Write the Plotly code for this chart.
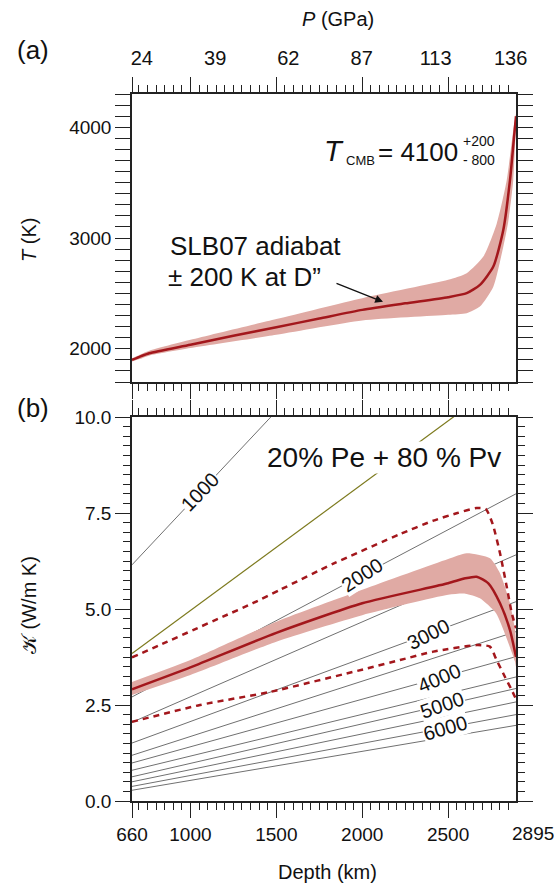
import plotly.graph_objects as go

# ---------------- data ----------------
# (a) adiabat temperature vs depth
depth_T = [660, 700, 760, 1000, 1250, 1500, 1750, 2000, 2250, 2500, 2608, 2685, 2763, 2821, 2860, 2880, 2895]
T_mean = [1900, 1925, 1960, 2036, 2118, 2195, 2273, 2351, 2410, 2466, 2502, 2577, 2742, 3072, 3522, 3850, 4100]
depth_T_hi = [660, 700, 760, 1000, 1500, 2000, 2500, 2608, 2705, 2783, 2841, 2879, 2895]
T_hi = [1915, 1942, 1982, 2081, 2268, 2457, 2622, 2682, 2832, 3132, 3522, 3973, 4120]
depth_T_lo = [660, 700, 760, 1000, 1500, 2000, 2500, 2608, 2685, 2763, 2821, 2850, 2879, 2895]
T_lo = [1885, 1905, 1938, 2006, 2126, 2255, 2306, 2321, 2381, 2561, 2922, 3150, 3522, 4050]

# top axis pressure labels
p_tick_depth = [717, 1144, 1570, 1997, 2427, 2864]
p_labels = ["24", "39", "62", "87", "113", "136"]

# (b) conductivity vs depth
depth_K = [660, 1000, 1500, 2000, 2500, 2600, 2666, 2734, 2802, 2860, 2895]
K_mean = [2.91, 3.48, 4.38, 5.15, 5.67, 5.80, 5.84, 5.67, 5.15, 4.45, 3.75]
depth_K_hi = [660, 1000, 1500, 2000, 2500, 2608, 2744, 2802, 2860, 2889, 2895]
K_hi = [3.10, 3.67, 4.67, 5.50, 6.30, 6.45, 6.32, 5.93, 5.15, 4.45, 4.10]
depth_K_lo = [660, 1000, 1500, 2000, 2500, 2600, 2685, 2779, 2837, 2889, 2895]
K_lo = [2.76, 3.28, 4.15, 4.84, 5.37, 5.40, 5.28, 4.89, 4.28, 3.63, 3.50]

depth_dash_hi = [660, 866, 1015, 1189, 1363, 1522, 1832, 2220, 2414, 2554, 2666, 2720, 2760, 2802, 2841, 2870, 2895]
K_dash_hi = [3.74, 4.15, 4.45, 4.80, 5.15, 5.50, 6.18, 6.95, 7.30, 7.50, 7.63, 7.60, 7.20, 6.45, 5.58, 4.90, 4.50]
depth_dash_lo = [660, 1056, 1463, 2026, 2220, 2414, 2666, 2743, 2782, 2831, 2870, 2895]
K_dash_lo = [2.06, 2.50, 2.84, 3.45, 3.67, 3.89, 4.06, 4.02, 3.67, 3.23, 2.89, 2.65]

# isotherms (K at 660 km and at 2895 km)
iso_depth = [660, 2895]
iso_T = [1000, 2000, 2500, 3000, 3500, 4000, 4500, 5000, 5500, 6000, 6500]
iso_K_top = [6.15, 2.71, 2.05, 1.51, 1.19, 0.99, 0.80, 0.63, 0.50, 0.38, 0.28]
iso_K_bot = [16.8, 8.00, 6.41, 5.19, 4.41, 3.76, 3.23, 2.93, 2.58, 2.25, 1.97]
olive_K = [3.84, 11.2]

iso_label_T = [1000, 2000, 3000, 4000, 5000, 6000]
iso_label_depth = [1056, 1999, 2388, 2450, 2466, 2485]
iso_label_angle = [-46, -33, -27, -23, -19, -16]

x_ticks = [660, 1000, 1500, 2000, 2500]
T_ticks = [2000, 3000, 4000]
K_ticks = [0, 2.5, 5, 7.5, 10]

# ---------------- styling ----------------
FONT = "Liberation Sans, Arial, Helvetica, sans-serif"
RED = "#a3171c"
BAND = "#e0aaa4"
GRAY = "#707070"
OLIVE = "#7d7a1e"
AX = "#222222"

W, H = 554, 890
L, R, T, B = 132, 516, 94, 801


def px(x):
    return (x - L) / (R - L)


def py(y):
    return (B - y) / (B - T)


SPL = dict(shape="spline", smoothing=0.6)

fig = go.Figure()

# ---- top panel ----
fig.add_trace(go.Scatter(x=depth_T_hi + depth_T_lo[::-1], y=T_hi + T_lo[::-1],
                         fill="toself", fillcolor=BAND, line=dict(width=0, **SPL),
                         mode="lines", xaxis="x2", yaxis="y2", hoverinfo="skip"))
fig.add_trace(go.Scatter(x=depth_T, y=T_mean, mode="lines", line=dict(color=RED, width=2.5, **SPL),
                         xaxis="x2", yaxis="y2"))
# invisible trace for top pressure axis
fig.add_trace(go.Scatter(x=[p_tick_depth[0]], y=[T_mean[0]], mode="markers",
                         marker=dict(opacity=0), xaxis="x3", yaxis="y2", hoverinfo="skip"))

# ---- bottom panel ----
for i, t in enumerate(iso_T):
    fig.add_trace(go.Scatter(x=iso_depth, y=[iso_K_top[i], iso_K_bot[i]], mode="lines",
                             line=dict(color=GRAY, width=1), xaxis="x", yaxis="y",
                             name=f"{t} K"))
fig.add_trace(go.Scatter(x=iso_depth, y=olive_K, mode="lines", line=dict(color=OLIVE, width=1.2),
                         xaxis="x", yaxis="y"))
fig.add_trace(go.Scatter(x=depth_K_hi + depth_K_lo[::-1], y=K_hi + K_lo[::-1],
                         fill="toself", fillcolor=BAND, line=dict(width=0, **SPL),
                         mode="lines", xaxis="x", yaxis="y", hoverinfo="skip"))
fig.add_trace(go.Scatter(x=depth_K, y=K_mean, mode="lines", line=dict(color=RED, width=2.5, **SPL),
                         xaxis="x", yaxis="y"))
fig.add_trace(go.Scatter(x=depth_dash_hi, y=K_dash_hi, mode="lines",
                         line=dict(color=RED, width=2.5, dash="6px,5px", **SPL), xaxis="x", yaxis="y"))
fig.add_trace(go.Scatter(x=depth_dash_lo, y=K_dash_lo, mode="lines",
                         line=dict(color=RED, width=2.5, dash="6px,5px", **SPL), xaxis="x", yaxis="y"))

axis_common = dict(showline=True, linecolor=AX, linewidth=1.5, mirror="allticks",
                   ticks="outside", ticklen=15, tickwidth=1.3, tickcolor=AX,
                   showgrid=False, zeroline=False,
                   tickfont=dict(family=FONT, size=19, color="#111"))

x_minor = dict(ticks="outside", ticklen=7, tickwidth=1, tickcolor=AX, tickmode="linear", tick0=0, dtick=50)

fig.update_layout(
    width=W, height=H, margin=dict(l=L, r=W - R, t=T, b=H - B),
    paper_bgcolor="white", plot_bgcolor="white", showlegend=False,
    font=dict(family=FONT, color="#111"),
    xaxis=dict(range=[660, 2895], anchor="y", tickvals=x_ticks, ticktext=[str(v) for v in x_ticks],
               minor=x_minor, **axis_common),
    yaxis=dict(range=[0, 10], domain=[0, py(417)], anchor="x", tickvals=K_ticks,
               ticktext=[f"{v:.1f}" for v in K_ticks],
               minor=dict(ticks="outside", ticklen=7, tickwidth=1, tickcolor=AX, tickmode="linear",
                          tick0=0, dtick=0.25), **axis_common),
    xaxis2=dict(range=[660, 2895], anchor="y2", tickvals=x_ticks, showticklabels=False,
                minor=x_minor, **axis_common),
    yaxis2=dict(range=[1700, 4300], domain=[py(382), 1], anchor="x2", tickvals=T_ticks,
                minor=dict(ticks="outside", ticklen=7, tickwidth=1, tickcolor=AX, tickmode="linear",
                           tick0=0, dtick=100), **axis_common),
    xaxis3=dict(range=[660, 2895], overlaying="x2", anchor="y2", side="top",
                tickvals=p_tick_depth, ticktext=p_labels, ticks="outside", ticklen=20,
                tickcolor="rgba(0,0,0,0)", showline=False, showgrid=False, zeroline=False,
                tickfont=dict(family=FONT, size=20, color="#111")),
)

ann = []


def text(x, y, s, size, **kw):
    d = dict(x=px(x), y=py(y), xref="paper", yref="paper", text=s, showarrow=False,
             xanchor="center", yanchor="middle",
             font=dict(family=FONT, size=size, color="#111"))
    d.update(kw)
    ann.append(d)


text(33, 50, "(a)", 26)
text(33, 408, "(b)", 26)
text(338, 19, "<i>P</i> (GPa)", 20)
text(327, 872, "Depth (km)", 20)
text(533, 833, "2895", 19)
text(29, 240, "<i>T</i> (K)", 20, textangle=-90)
text(29, 605, "𝒦 (W/m K)", 20, textangle=-90)

# T_CMB annotation
text(322, 151, "<i>T</i>", 29, xanchor="left")
text(344, 160, "CMB", 13, xanchor="left")
text(376, 152, "= 4100", 26, xanchor="left")
text(461, 141, "+200", 14, xanchor="left")
text(461, 160, "- 800", 14, xanchor="left")

# adiabat label
text(168, 246, "SLB07 adiabat", 26, xanchor="left")
text(166, 277, "± 200 K at D”", 26, xanchor="left")
ann.append(dict(x=660 + (383 - L) * 2235 / 384, y=2000 + (349 - 302) * 1000 / 111,
                xref="x2", yref="y2", ax=-48, ay=-19, axref="pixel", ayref="pixel",
                text="", showarrow=True, arrowhead=2, arrowsize=1.2, arrowwidth=1.3,
                arrowcolor="#111"))

# composition label
text(384, 457, "20% Pe + 80 % Pv", 28, bgcolor="white", borderpad=0)

# isotherm labels
for t, d, a in zip(iso_label_T, iso_label_depth, iso_label_angle):
    i = iso_T.index(t)
    k = iso_K_top[i] + (iso_K_bot[i] - iso_K_top[i]) * (d - iso_depth[0]) / (iso_depth[1] - iso_depth[0])
    ann.append(dict(x=d, y=k, xref="x", yref="y", text=str(t), showarrow=False, textangle=a,
                    bgcolor="white", borderpad=0,
                    font=dict(family=FONT, size=20, color="#111")))

fig.update_layout(annotations=ann)
fig.write_html("out.html", config={"displayModeBar": False},
               post_script="document.body.style.margin='0px';")
